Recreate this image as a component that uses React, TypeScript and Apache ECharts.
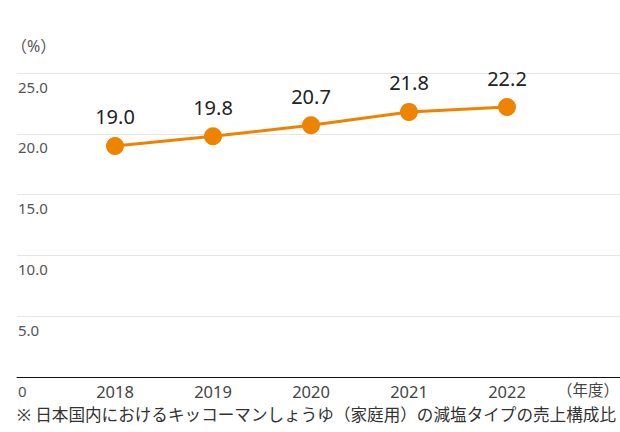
import React, { useEffect, useRef } from "react";
import * as echarts from "echarts";

const years = [2018, 2019, 2020, 2021, 2022];
const ratios = [19.0, 19.8, 20.7, 21.8, 22.2];
const yTicks = [0, 5, 10, 15, 20, 25];
const unitLabel = "（%）";
const xUnitLabel = "（年度）";
const footnote = "※ 日本国内におけるキッコーマンしょうゆ（家庭用）の減塩タイプの売上構成比";

const FONT = "'Noto Sans', 'Noto Sans CJK JP', sans-serif";

export default function App() {
  const ref = useRef<HTMLDivElement>(null);
  useEffect(() => {
    if (!ref.current) return;
    const chart = echarts.init(ref.current, undefined, { renderer: "svg" });
    chart.setOption({
      animation: false,
      backgroundColor: "#ffffff",
      textStyle: { fontFamily: FONT },
      grid: { left: 17, right: 0, top: 73, bottom: 55, containLabel: false },
      xAxis: {
        type: "value",
        min: 2017,
        max: 2017 + 603 / 98,
        interval: 1,
        axisLine: { show: true, lineStyle: { color: "#111", width: 1 } },
        axisTick: { show: false },
        splitLine: { show: false },
        axisLabel: {
          show: true,
          fontSize: 16.5,
          color: "#444",
          fontFamily: FONT,
          margin: 6,
          showMinLabel: true,
          showMaxLabel: false,
          formatter: (v: number) => (years.includes(Math.round(v)) && Math.abs(v - Math.round(v)) < 1e-6 ? String(Math.round(v)) : ""),
        },
      },
      yAxis: {
        type: "value",
        min: yTicks[0],
        max: yTicks[yTicks.length - 1],
        interval: 5,
        axisLine: { show: false },
        axisTick: { show: false },
        splitLine: { show: true, lineStyle: { color: "#e6e6e6", width: 1 } },
        axisLabel: {
          inside: true,
          fontSize: 15,
          color: "#555",
          fontFamily: FONT,
          verticalAlign: "top",
          align: "left",
          margin: 1,
          padding: [6, 0, 0, 0],
          formatter: (v: number) => (v === 0 ? "0" : v.toFixed(1)),
        },
      },
      series: [
        {
          type: "line",
          data: years.map((y, i) => [y, ratios[i]]),
          symbol: "circle",
          symbolSize: 18,
          lineStyle: { color: "#ee8300", width: 3 },
          itemStyle: { color: "#ee8300" },
          label: {
            show: true,
            position: "top",
            distance: 10,
            fontSize: 20,
            color: "#222",
            fontFamily: FONT,
            formatter: (p: any) => p.value[1].toFixed(1),
          },
        },
      ],
      graphic: [
        {
          type: "text",
          left: 11,
          top: 38,
          style: { text: unitLabel, fontSize: 16, fill: "#555", fontFamily: FONT },
        },
        {
          type: "text",
          left: 557,
          top: 382,
          style: { text: xUnitLabel, fontSize: 15.5, fill: "#444", fontFamily: FONT },
        },
        {
          type: "text",
          left: 17,
          top: 406,
          style: { text: footnote, fontSize: 16.6, fill: "#333", fontFamily: FONT },
        },
      ],
    });
    return () => chart.dispose();
  }, []);
  return (
    <div
      ref={ref}
      style={{ position: "absolute", left: 0, top: 0, width: 620, height: 432 }}
    />
  );
}
